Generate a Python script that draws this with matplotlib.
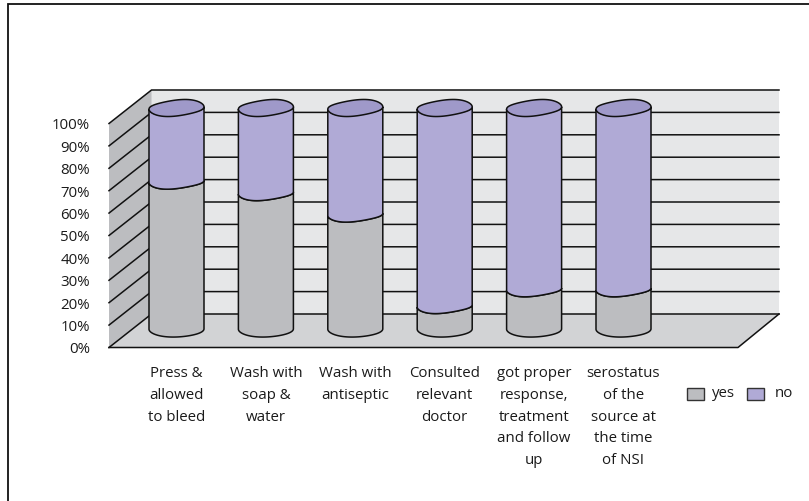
import numpy as np
import matplotlib
matplotlib.use('Agg')
import matplotlib.pyplot as plt
from matplotlib.patches import Polygon, Rectangle

plt.rcParams['font.family'] = ['Open Sans', 'DejaVu Sans']

categories = ['Press &\nallowed\nto bleed', 'Wash with\nsoap &\nwater', 'Wash with\nantiseptic',
              'Consulted\nrelevant\ndoctor', 'got proper\nresponse,\ntreatment\nand follow\nup',
              'serostatus\nof the\nsource at\nthe time\nof NSI']
yes_pct = [66.7, 61.5, 51.8, 10.4, 18, 18]
no_pct = [33.3, 38.5, 48.2, 89.6, 82, 82]
tick_pct = [0, 10, 20, 30, 40, 50, 60, 70, 80, 90, 100]

GREY = '#bcbdc0'
PURPLE = '#b0aad6'
PURPLE_TOP = '#9f99c9'
INK = '#111111'
TEXT = '#1a1a1a'
FS = 10.8

W, H = 809, 502
fig = plt.figure(figsize=(W / 100, H / 100), dpi=100)
ax = fig.add_axes([0, 0, 1, 1])
ax.set_xlim(0, W)
ax.set_ylim(H, 0)
ax.axis('off')

# outer frame, only top and left are visible
ax.plot([8.5, 8.5, W], [H, 4.5, 4.5], color='#111111', lw=1.3, solid_joinstyle='miter')

# 3d box of the plot: front edge, back edge
front_l, front_r, front_y = 109, 738, 348.5
back_l, back_r, back_y = 151.5, 779, 315
unit = 2.24


def wall_y(p):
    return back_y - p * unit


def front_y_at(p):
    return front_y - p * unit


def cyl_y(p):
    return 330 - p * 2.21


ax.add_patch(Polygon([(back_l, back_y), (back_r, back_y), (back_r, wall_y(100)), (back_l, wall_y(100))],
                     fc='#e6e7e8', ec='none'))
ax.add_patch(Polygon([(front_l, front_y), (back_l, back_y), (back_l, wall_y(100)), (front_l, front_y_at(100))],
                     fc=GREY, ec='none'))
ax.add_patch(Polygon([(front_l, front_y), (front_r, front_y), (back_r, back_y), (back_l, back_y)],
                     fc='#d2d3d5', ec='none'))

for p in tick_pct:
    ax.plot([front_l, back_l, back_r], [front_y_at(p), wall_y(p), wall_y(p)], color=INK, lw=1.1,
            solid_joinstyle='miter')
    ax.text(90, front_y_at(p) + 1.5, f'{p}%', ha='right', va='center', fontsize=FS, color=TEXT)
ax.plot([front_l, front_r, back_r], [front_y, front_y, back_y], color=INK, lw=1.1)


def arc(cx, cy, b, s, c, t0, t1):
    # skewed ellipse, the low point sits left of centre and the high point right of it
    t = np.linspace(t0, t1, 80)
    return cx + 27.5 * np.cos(t), cy + b * np.sin(t) - s * np.cos(t) + c * np.cos(3 * t)


def segment(cx, p0, p1, color, base):
    # side of one cylinder section, both ends bulging downward
    if base:
        x0, y0 = arc(cx, cyl_y(p0), 8, 0.4, 0.2, 0, np.pi)
    else:
        x0, y0 = arc(cx, cyl_y(p0), 7, 1.7, 0.5, 0, np.pi)
    x1, y1 = arc(cx, cyl_y(p1), 7, 1.7, 0.5, np.pi, 0)
    pts = np.column_stack([np.r_[x0, x1], np.r_[y0, y1]])
    ax.add_patch(Polygon(pts, closed=True, fc=color, ec=INK, lw=1.1, zorder=3))


for i, (yes, no) in enumerate(zip(yes_pct, no_pct)):
    cx = 176.5 + i * 89.4
    segment(cx, 0, yes, GREY, True)
    segment(cx, yes, yes + no, PURPLE, False)
    x, y = arc(cx, cyl_y(yes + no), 8, 1.7, 0.5, 0, 2 * np.pi)
    ax.add_patch(Polygon(np.column_stack([x, y]), closed=True, fc=PURPLE_TOP, ec=INK, lw=1.1, zorder=4))
    ax.text(cx, 366.5, categories[i], ha='center', va='top', fontsize=FS, color=TEXT, linespacing=1.6)

# legend
ax.add_patch(Rectangle((687, 388.5), 17, 12, fc=GREY, ec='#333333', lw=1))
ax.text(712, 393.5, 'yes', ha='left', va='center', fontsize=FS, color=TEXT)
ax.add_patch(Rectangle((747.5, 388.5), 17, 12, fc=PURPLE, ec='#333333', lw=1))
ax.text(775, 393.5, 'no', ha='left', va='center', fontsize=FS, color=TEXT)

plt.savefig('out.png', dpi=100)
